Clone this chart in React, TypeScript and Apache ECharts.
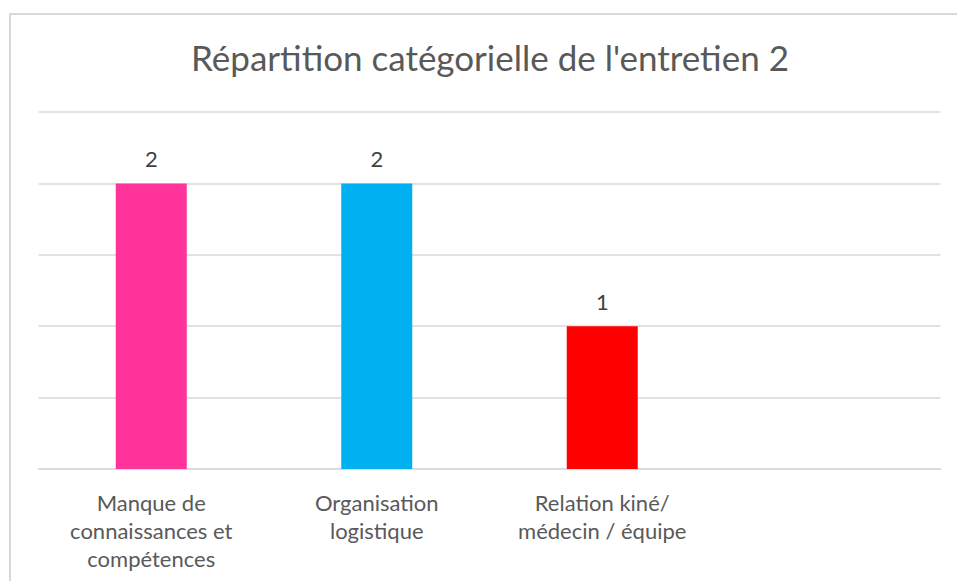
import React, { useEffect, useRef } from "react";
import * as echarts from "echarts";

const title = "Répartition catégorielle de l'entretien 2";
const categories = [
  "Manque de\nconnaissances et\ncompétences",
  "Organisation\nlogistique",
  "Relation kiné/\nmédecin / équipe",
  "",
];
const values = [2, 2, 1, null];
const barColors = ["#FF3399", "#00B0F0", "#FF0000", "#FF0000"];
const yMin = 0;
const yMax = 2.5;
const yStep = 0.5;

export default function App() {
  const ref = useRef<HTMLDivElement>(null);
  useEffect(() => {
    if (!ref.current) return;
    const chart = echarts.init(ref.current, undefined, { renderer: "svg" });
    const font = "Lato, sans-serif";
    chart.setOption({
      animation: false,
      backgroundColor: "#ffffff",
      graphic: [
        {
          type: "rect",
          shape: { x: 10, y: 14, width: 1000, height: 1000 },
          style: { fill: "none", stroke: "#D9D9D9", lineWidth: 2 },
          silent: true,
        },
        {
          type: "text",
          x: 490,
          y: 57,
          style: {
            text: title,
            fill: "#595959",
            font: `35px ${font}`,
            textAlign: "center",
            textVerticalAlign: "middle",
          },
        },
      ],
      grid: { left: 38.5, right: 16.5, top: 112, bottom: 112, containLabel: false },
      xAxis: {
        type: "category",
        data: categories,
        axisLine: { show: true, lineStyle: { color: "#D9D9D9", width: 1.5 } },
        axisTick: { show: false },
        axisLabel: {
          color: "#595959",
          fontFamily: font,
          fontSize: 22,
          lineHeight: 28,
          margin: 19,
          interval: 0,
        },
      },
      yAxis: {
        type: "value",
        min: yMin,
        max: yMax,
        interval: yStep,
        axisLabel: { show: false },
        axisLine: { show: false },
        axisTick: { show: false },
        splitLine: { lineStyle: { color: "#D9D9D9", width: 1.5 } },
      },
      series: [
        {
          type: "bar",
          barWidth: 71,
          data: values.map((v, i) => ({ value: v, itemStyle: { color: barColors[i] } })),
          label: {
            show: true,
            position: "top",
            distance: 14,
            color: "#404040",
            fontFamily: font,
            fontSize: 22,
            lineHeight: 22,
          },
        },
      ],
    });
    return () => chart.dispose();
  }, []);
  return (
    <div
      ref={ref}
      style={{ position: "fixed", left: 0, top: 0, width: 957, height: 581 }}
    />
  );
}
